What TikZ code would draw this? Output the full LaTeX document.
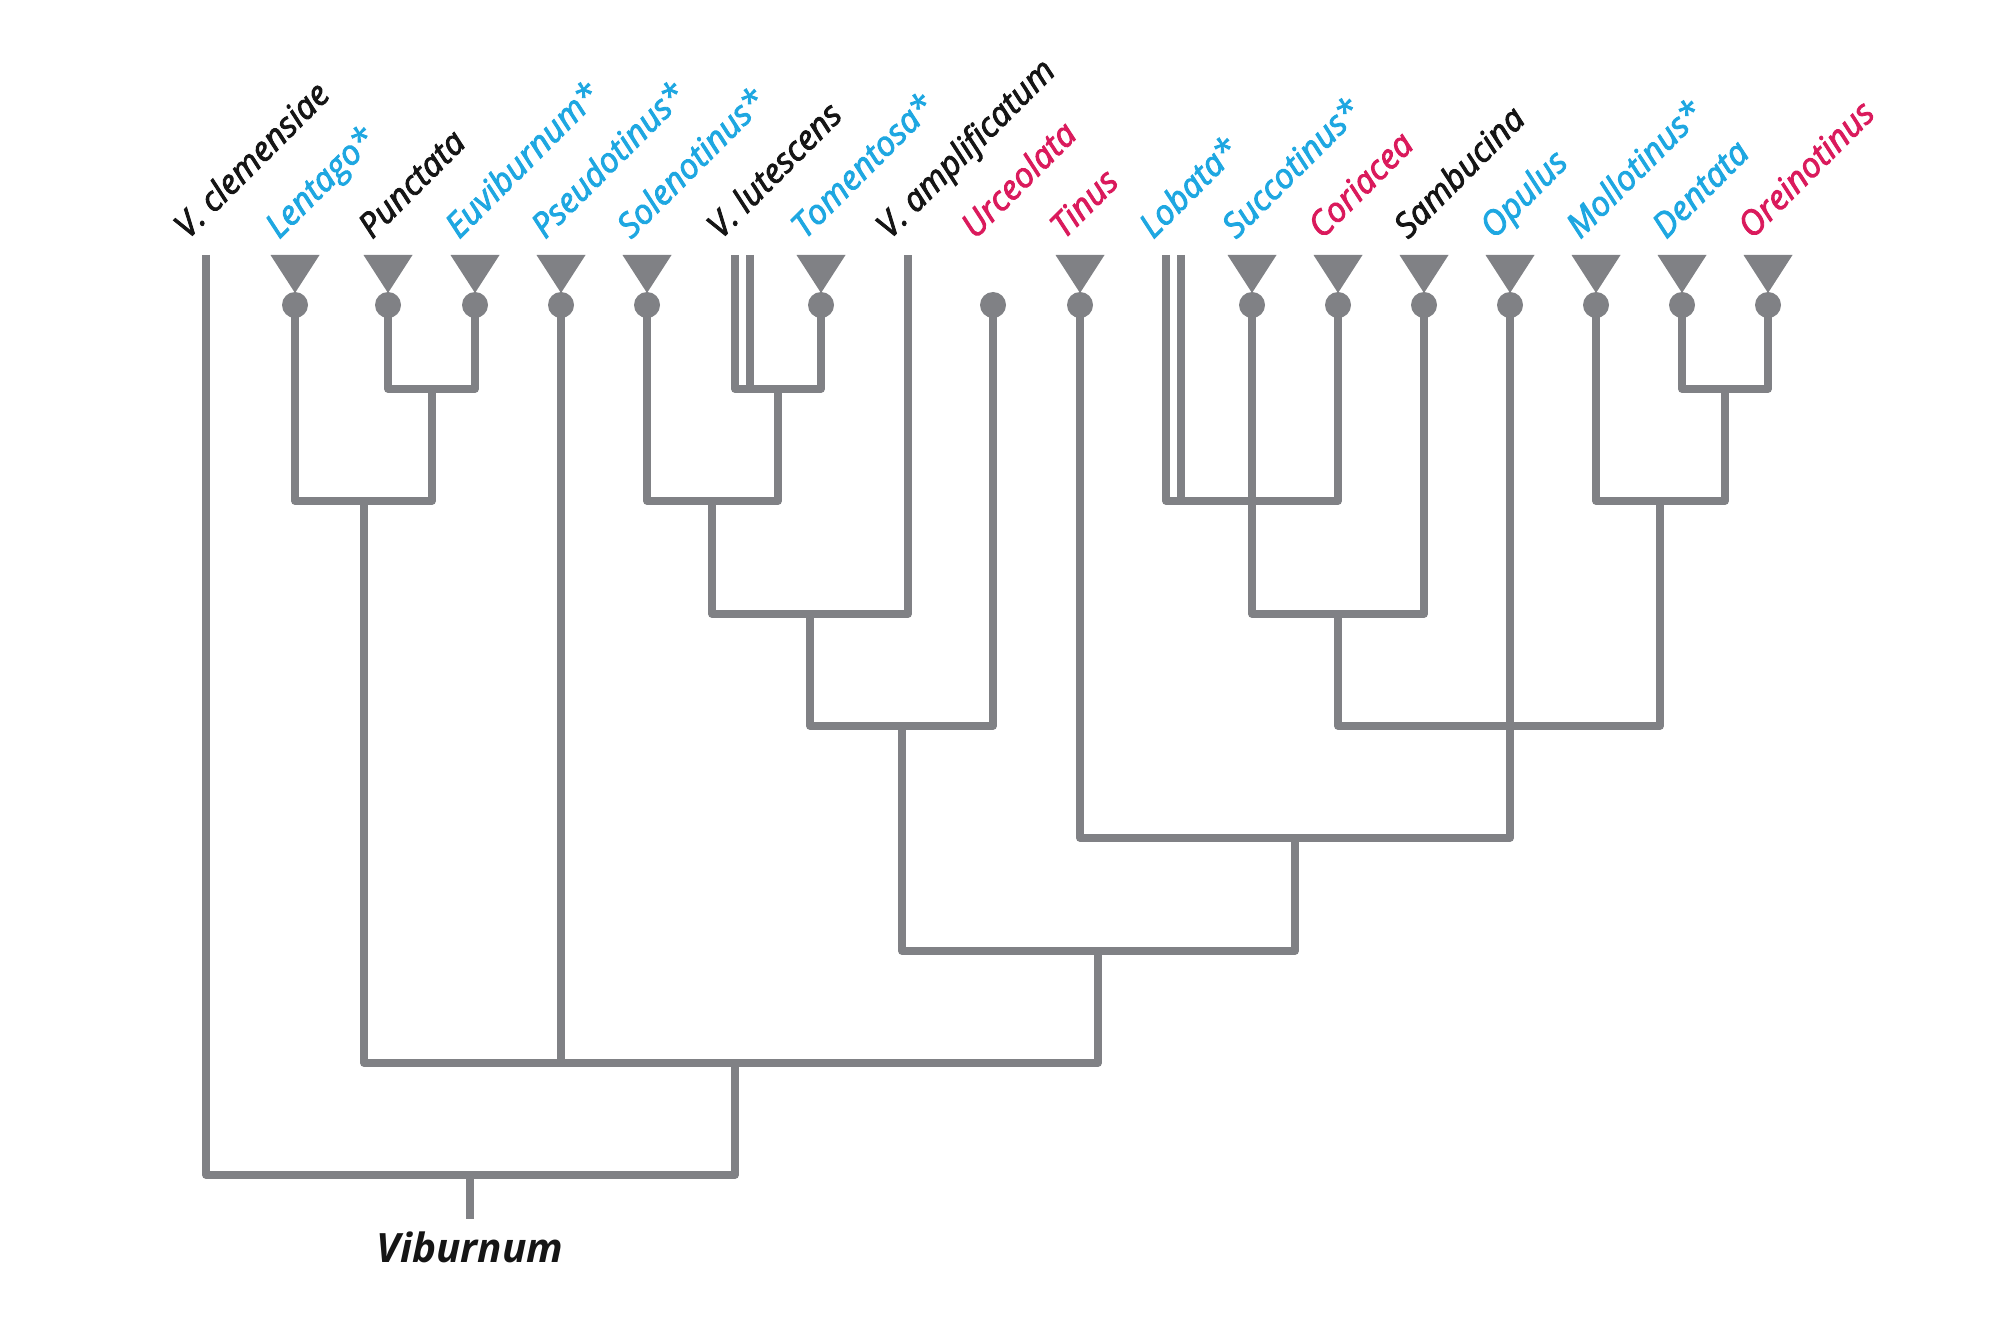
\documentclass[tikz,border=0pt]{standalone}
\usepackage{fontspec}
\setmainfont{Open Sans}
\newfontfamily\labfont{Open Sans}[ItalicFeatures={FakeBold=2.6}]
\usetikzlibrary{calc}
\definecolor{branch}{HTML}{808185}
\definecolor{cladeblue}{HTML}{1EA7E1}
\definecolor{cladered}{HTML}{DA1A5C}
\definecolor{ink}{HTML}{151515}
\tikzset{
  br/.style={line width=3.8pt, draw=branch, line join=round},
  cone/.style={fill=branch},
  lab/.style={font=\labfont\itshape\fontsize{17}{20}\selectfont, rotate=45, anchor=base west, inner sep=0pt},
  labB/.style={lab, text=cladeblue},
  labR/.style={lab, text=cladered},
  labK/.style={lab, text=ink},
  rootlab/.style={font=\bfseries\itshape\fontsize{20.2}{24}\selectfont, text=ink, anchor=base, inner sep=0pt}
}
\begin{document}
\begin{tikzpicture}[x=0.5pt,y=-0.5pt]
  \useasboundingbox (0,0) rectangle (2001,1326);

  % tips
  \coordinate (clem) at (206,255);
  \coordinate (lent) at (295,305);
  \coordinate (punc) at (388,305);
  \coordinate (euvi) at (475,305);
  \coordinate (pseu) at (561,305);
  \coordinate (sole) at (647,305);
  \coordinate (luteA) at (735,255);
  \coordinate (luteB) at (750,255);
  \coordinate (tome) at (821,305);
  \coordinate (ampl) at (908,255);
  \coordinate (urce) at (993,305);
  \coordinate (tinu) at (1080,305);
  \coordinate (lobaA) at (1166,255);
  \coordinate (lobaB) at (1181,255);
  \coordinate (succ) at (1252,305);
  \coordinate (cori) at (1338,305);
  \coordinate (samb) at (1424,305);
  \coordinate (opul) at (1510,305);
  \coordinate (moll) at (1596,305);
  \coordinate (dent) at (1682,305);
  \coordinate (orei) at (1768,305);

  % inner nodes
  \coordinate (n1) at (432,389);
  \coordinate (n2) at (364,501);
  \coordinate (n3) at (778,389);
  \coordinate (n4) at (712,501);
  \coordinate (n5) at (810,614);
  \coordinate (n6) at (902,726);
  \coordinate (n7) at (1252,501);
  \coordinate (n8) at (1338,614);
  \coordinate (n9) at (1725,389);
  \coordinate (n10) at (1660,501);
  \coordinate (n11) at (1510,726);
  \coordinate (n12) at (1295,838);
  \coordinate (n13) at (1098,951);
  \coordinate (n14) at (735,1063);
  \coordinate (root) at (470,1175);
  \coordinate (rootend) at (470,1219);

  % cones
  \foreach \t in {lent,punc,euvi,pseu,sole,tome,tinu,succ,cori,samb,opul,moll,dent,orei}{
    \fill[cone] ($(\t)+(-24.5,-50)$) -- ($(\t)+(24.5,-50)$) -- ($(\t)+(0,-12)$) -- cycle;
    \fill[cone] (\t) circle[radius=13];
  }
  \fill[cone] (urce) circle[radius=13];

  % branches
  \draw[br] (punc) |- (n1) -| (euvi);
  \draw[br] (lent) |- (n2) -| (n1);
  \draw[br] (luteA) |- (n3) -| (tome);
  \draw[br] (luteB) -- (luteB |- n3);
  \draw[br] (sole) |- (n4) -| (n3);
  \draw[br] (n4) |- (n5) -| (ampl);
  \draw[br] (n5) |- (n6) -| (urce);
  \draw[br] (lobaA) |- (n7) -| (cori);
  \draw[br] (lobaB) -- (lobaB |- n7);
  \draw[br] (succ) -- (n7);
  \draw[br] (n7) |- (n8) -| (samb);
  \draw[br] (dent) |- (n9) -| (orei);
  \draw[br] (moll) |- (n10) -| (n9);
  \draw[br] (n8) |- (n11) -| (n10);
  \draw[br] (tinu) |- (n12) -| (opul);
  \draw[br] (n6) |- (n13) -| (n12);
  \draw[br] (n2) |- (n14) -| (n13);
  \draw[br] (pseu) -- (pseu |- n14);
  \draw[br] (clem) |- (root) -| (n14);
  \draw[br] (root) -- (rootend);

  % labels
  \node[labK] (l-clem) at (188,240) {V. clemensiae};
  \node[labB] (l-lent) at (279,240) {Lentago*};
  \node[labK] (l-punc) at (372,240) {Punctata};
  \node[labB] (l-euvi) at (459,240) {Euviburnum*};
  \node[labB] (l-pseu) at (545,240) {Pseudotinus*};
  \node[labB] (l-sole) at (631,240) {Solenotinus*};
  \node[labK] (l-lute) at (721,240) {V. lutescens};
  \node[labB] (l-tome) at (805,240) {Tomentosa*};
  \node[labK] (l-ampl) at (890,240) {V. amplificatum};
  \node[labR] (l-urce) at (975,240) {Urceolata};
  \node[labR] (l-tinu) at (1064,240) {Tinus};
  \node[labB] (l-loba) at (1153,240) {Lobata*};
  \node[labB] (l-succ) at (1236,240) {Succotinus*};
  \node[labR] (l-cori) at (1322,240) {Coriacea};
  \node[labK] (l-samb) at (1408,240) {Sambucina};
  \node[labB] (l-opul) at (1494,240) {Opulus};
  \node[labB] (l-moll) at (1580,240) {Mollotinus*};
  \node[labB] (l-dent) at (1666,240) {Dentata};
  \node[labR] (l-orei) at (1752,240) {Oreinotinus};
  \node[rootlab] (l-root) at (470,1262) {Viburnum};
\end{tikzpicture}
\end{document}
